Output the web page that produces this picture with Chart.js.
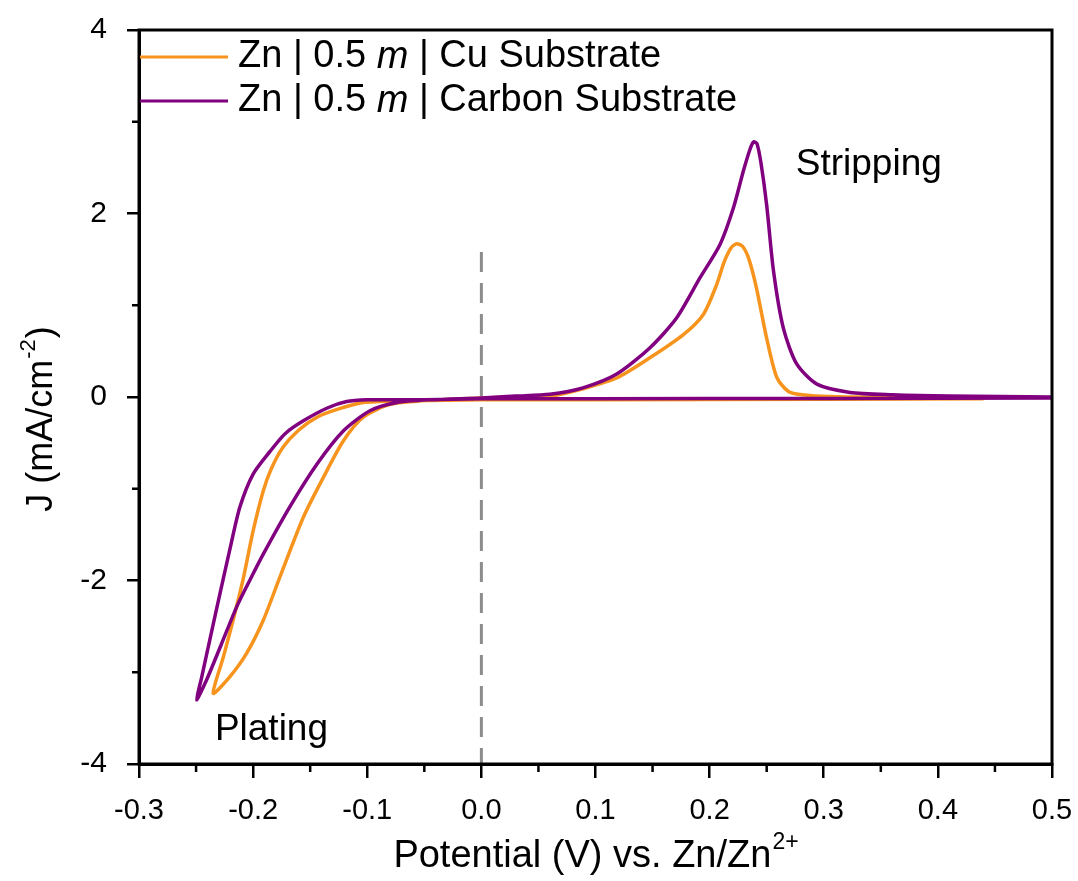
<!DOCTYPE html>
<html>
<head>
<meta charset="utf-8">
<script src="https://cdn.jsdelivr.net/npm/chart.js@4.4.1/dist/chart.umd.min.js"></script>
<style>
  body { margin: 0; background: #fff; }
  #wrap { width: 1078px; height: 881px; }
</style>
</head>
<body>
<div id="wrap"><canvas id="cv-chart" width="1078" height="881"></canvas></div>
<script>
// Zn | 0.5 m | Cu substrate (V vs Zn/Zn2+, mA/cm2)
var cuV = [0.44, 0.30, 0.10, 0.00, -0.06, -0.09,
  -0.1035, -0.125, -0.144, -0.160, -0.174, -0.184, -0.191, -0.200, -0.209, -0.2175, -0.226, -0.235,
  -0.2205, -0.206, -0.191, -0.1765, -0.156, -0.1386, -0.121, -0.1035, -0.080, -0.051,
  0.00, 0.03, 0.06, 0.089, 0.119, 0.148, 0.177, 0.1945, 0.206, 0.213, 0.219, 0.2238, 0.229, 0.2345, 0.241, 0.250, 0.259, 0.2705, 0.294, 0.32, 0.44];
var cuJ = [-0.02, -0.025, -0.03, -0.03, -0.04, -0.05,
  -0.06, -0.13, -0.22, -0.36, -0.55, -0.78, -1.02, -1.46, -2.00, -2.43, -2.83, -3.23,
  -3.05, -2.80, -2.43, -1.96, -1.31, -0.88, -0.48, -0.22, -0.08, -0.04,
  -0.01, 0.00, 0.01, 0.09, 0.21, 0.43, 0.68, 0.90, 1.22, 1.48, 1.63, 1.67, 1.64, 1.50, 1.19, 0.64, 0.21, 0.05, 0.01, 0.00, -0.01];

// Zn | 0.5 m | Carbon substrate
var cV = [0.50, 0.30, 0.10, 0.00, -0.05, -0.08, -0.10,
  -0.118, -0.135, -0.156, -0.172, -0.185, -0.200, -0.2116, -0.220, -0.229, -0.238, -0.245, -0.2495,
  -0.241, -0.228, -0.2145, -0.203, -0.191, -0.168, -0.144, -0.121, -0.0976, -0.074, -0.045,
  0.00, 0.03, 0.06, 0.089, 0.1186, 0.148, 0.171, 0.1916, 0.209, 0.2208, 0.2295, 0.2354, 0.2385, 0.2415, 0.245, 0.250, 0.256, 0.2646, 0.2763, 0.294, 0.323, 0.36, 0.41, 0.50];
var cJ = [-0.01, -0.015, -0.02, -0.02, -0.03, -0.03, -0.03,
  -0.05, -0.12, -0.26, -0.40, -0.59, -0.84, -1.20, -1.64, -2.14, -2.65, -3.05, -3.30,
  -3.09, -2.70, -2.29, -2.00, -1.71, -1.20, -0.73, -0.37, -0.15, -0.06, -0.03,
  -0.01, 0.01, 0.03, 0.10, 0.25, 0.54, 0.86, 1.30, 1.66, 2.06, 2.46, 2.70, 2.78, 2.76, 2.55, 2.09, 1.37, 0.75, 0.36, 0.14, 0.05, 0.025, 0.01, 0.00];

// reference line at 0 V
var refV = [0, 0];
var refJ = [1.58, -4];

var xMinor = [-0.25, -0.15, -0.05, 0.05, 0.15, 0.25, 0.35, 0.45];
var yMinor = [3, 1, -1, -3];

var seriesNames = ['Zn | 0.5 ', 'm', ' | Cu Substrate', ' | Carbon Substrate'];
var cuColor = '#f7941d';
var cColor = '#800080';

function pts(xs, ys) {
  return xs.map(function (x, i) { return { x: x, y: ys[i] }; });
}

var SANS = "'Liberation Sans', Arial, sans-serif";

function isMajor(v, step) {
  return Math.abs(Math.round(v / step)) % 2 === 0;
}

var decor = {
  id: 'decor',
  afterDraw: function (chart) {
    var ctx = chart.ctx;
    var a = chart.chartArea;
    var xs = chart.scales.x, ys = chart.scales.y;
    ctx.save();
    // frame
    ctx.strokeStyle = '#000';
    ctx.lineWidth = 3;
    ctx.strokeRect(a.left, a.top, a.right - a.left, a.bottom - a.top);
    // minor ticks
    ctx.lineWidth = 2.5;
    ctx.beginPath();
    yMinor.forEach(function (v) {
      var p = ys.getPixelForValue(v);
      ctx.moveTo(a.left - 7, p); ctx.lineTo(a.left, p);
    });
    xMinor.forEach(function (v) {
      var p = xs.getPixelForValue(v);
      ctx.moveTo(p, a.bottom); ctx.lineTo(p, a.bottom + 8);
    });
    ctx.stroke();

    // legend
    var rows = [[cuColor, seriesNames[2]], [cColor, seriesNames[3]]];
    ctx.textBaseline = 'middle';
    rows.forEach(function (r, i) {
      var y = 57 + i * 44;
      ctx.strokeStyle = r[0];
      ctx.lineWidth = 3;
      ctx.beginPath(); ctx.moveTo(a.left + 1, y); ctx.lineTo(228, y); ctx.stroke();
      var x = 238;
      ctx.fillStyle = '#000';
      ctx.font = '38px ' + SANS;
      ctx.fillText(seriesNames[0], x, y); x += ctx.measureText(seriesNames[0]).width;
      ctx.font = 'italic 38px ' + SANS;
      ctx.fillText(seriesNames[1], x, y); x += ctx.measureText(seriesNames[1]).width;
      ctx.font = '38px ' + SANS;
      ctx.fillText(r[1], x, y);
    });

    // annotations
    ctx.textBaseline = 'alphabetic';
    ctx.font = '37px ' + SANS;
    ctx.fillText('Stripping', xs.getPixelForValue(0.2755), ys.getPixelForValue(2.42));
    ctx.fillText('Plating', xs.getPixelForValue(-0.2335), ys.getPixelForValue(-3.74));

    // x title
    var t1 = 'Potential (V) vs. Zn/Zn', s1 = '2+';
    ctx.font = '38px ' + SANS;
    var w1 = ctx.measureText(t1).width;
    ctx.font = '23px ' + SANS;
    var w2 = ctx.measureText(s1).width;
    var cx = (a.left + a.right) / 2;
    var x0 = cx - (w1 + w2) / 2;
    ctx.font = '38px ' + SANS;
    ctx.fillText(t1, x0, 867);
    ctx.font = '23px ' + SANS;
    ctx.fillText(s1, x0 + w1 + 1, 849);

    // y title
    ctx.translate(52, 420);
    ctx.rotate(-Math.PI / 2);
    var t2 = 'J (mA/cm', s2 = '-2', t3 = ')';
    ctx.font = '36px ' + SANS;
    var wa = ctx.measureText(t2).width, wc = ctx.measureText(t3).width;
    ctx.font = '22px ' + SANS;
    var wb = ctx.measureText(s2).width;
    var y0 = -(wa + wb + wc) / 2;
    ctx.font = '36px ' + SANS;
    ctx.fillText(t2, y0, 0);
    ctx.font = '22px ' + SANS;
    ctx.fillText(s2, y0 + wa + 1, -17);
    ctx.font = '36px ' + SANS;
    ctx.fillText(t3, y0 + wa + wb + 2, 0);
    ctx.restore();
  }
};

var ctx = document.getElementById('cv-chart').getContext('2d');
var chart = new Chart(ctx, {
  type: 'scatter',
  data: {
    datasets: [
      { label: 'ref', data: pts(refV, refJ), showLine: true, borderColor: '#8c8c8c', borderWidth: 3, borderDash: [20, 11], pointRadius: 0 },
      { label: 'Zn | 0.5 m | Carbon Substrate', data: pts(cV, cJ), showLine: true, borderColor: cColor, borderWidth: 3.5, pointRadius: 0, tension: 0.25 },
      { label: 'Zn | 0.5 m | Cu Substrate', data: pts(cuV, cuJ), showLine: true, borderColor: cuColor, borderWidth: 3.5, pointRadius: 0, tension: 0.25 }
    ]
  },
  options: {
    responsive: false,
    animation: false,
    layout: { padding: { top: 30, right: 26, left: 0, bottom: 0 } },
    plugins: { legend: { display: false }, tooltip: { enabled: false } },
    scales: {
      x: {
        type: 'linear', min: -0.3, max: 0.5,
        afterFit: function (s) { s.height = 117; s.paddingLeft = 0; s.paddingRight = 0; },
        ticks: {
          stepSize: 0.05, color: '#000', padding: 16, maxRotation: 0, autoSkip: false,
          font: { family: SANS, size: 29 },
          callback: function (v) { return isMajor(v, 0.05) ? v.toFixed(1) : ''; }
        },
        grid: {
          drawOnChartArea: false, drawTicks: true, tickLength: 14, lineWidth: 2.5,
          tickColor: function (c) { return isMajor(c.tick.value, 0.05) ? '#000' : 'rgba(0,0,0,0)'; }
        },
        border: { display: true, color: '#000', width: 3 }
      },
      y: {
        min: -4, max: 4,
        afterFit: function (s) { s.width = 139; s.paddingTop = 0; s.paddingBottom = 0; },
        ticks: {
          stepSize: 1, color: '#000', padding: 20,
          font: { family: SANS, size: 30 },
          callback: function (v) { return v % 2 === 0 ? String(v) : ''; }
        },
        grid: {
          drawOnChartArea: false, drawTicks: true, tickLength: 12, lineWidth: 2.5,
          tickColor: function (c) { return c.tick.value % 2 === 0 ? '#000' : 'rgba(0,0,0,0)'; }
        },
        border: { display: true, color: '#000', width: 3 }
      }
    }
  },
  plugins: [decor]
});
</script>
</body>
</html>
